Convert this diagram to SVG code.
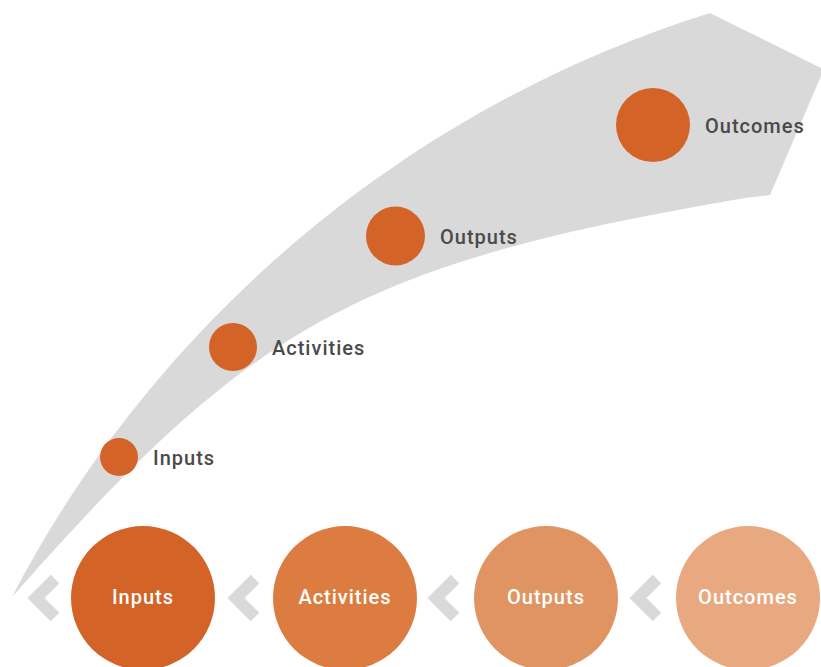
<svg xmlns="http://www.w3.org/2000/svg" width="821" height="667" viewBox="0 0 821 667">
  <style>
    .band { fill: #d9d9d9; }
    .dot { fill: #d46327; }
    .lbl { font-family: Roboto, "Liberation Sans", sans-serif; font-size: 20px; font-weight: 500; fill: #4a4a4a; letter-spacing: 1px; }
    .big { font-family: Roboto, "Liberation Sans", sans-serif; font-size: 20px; font-weight: 500; fill: #ffffff; letter-spacing: 1px; text-anchor: middle; }
    .chev { fill: none; stroke: #d9d9d9; stroke-width: 12; stroke-linejoin: miter; stroke-linecap: butt; }
  </style>
  <rect width="821" height="667" fill="#ffffff"/>
  <path id="band" class="band" d="M12,597 C152,327 402,109 710,13 L821,68 L821,76 L770,195 L745,198 C353,264.5 250,327.5 12,597 Z"/>

  <g id="step-inputs">
    <circle class="dot" cx="119" cy="457" r="19"/>
    <text class="lbl" x="153" y="465">Inputs</text>
  </g>
  <g id="step-activities">
    <circle class="dot" cx="233" cy="347" r="24"/>
    <text class="lbl" x="272" y="355">Activities</text>
  </g>
  <g id="step-outputs">
    <circle class="dot" cx="395.5" cy="236" r="29.5"/>
    <text class="lbl" x="440" y="244">Outputs</text>
  </g>
  <g id="step-outcomes">
    <circle class="dot" cx="653" cy="125" r="37"/>
    <text class="lbl" x="705" y="133">Outcomes</text>
  </g>

  <g id="node-inputs">
    <circle cx="143" cy="598" r="72" fill="#d46327"/>
    <text class="big" x="143" y="604">Inputs</text>
  </g>
  <g id="node-activities">
    <circle cx="345" cy="598" r="72" fill="#dc7c40"/>
    <text class="big" x="345" y="604">Activities</text>
  </g>
  <g id="node-outputs">
    <circle cx="546" cy="598" r="72" fill="#e09461"/>
    <text class="big" x="546" y="604">Outputs</text>
  </g>
  <g id="node-outcomes">
    <circle cx="748" cy="598" r="72" fill="#e8a980"/>
    <text class="big" x="748" y="604">Outcomes</text>
  </g>

  <g id="connectors">
    <polyline class="chev" points="55,579 36,598 55,617"/>
    <polyline class="chev" points="255,579 236,598 255,617"/>
    <polyline class="chev" points="455,579 436,598 455,617"/>
    <polyline class="chev" points="657,579 638,598 657,617"/>
  </g>
</svg>
